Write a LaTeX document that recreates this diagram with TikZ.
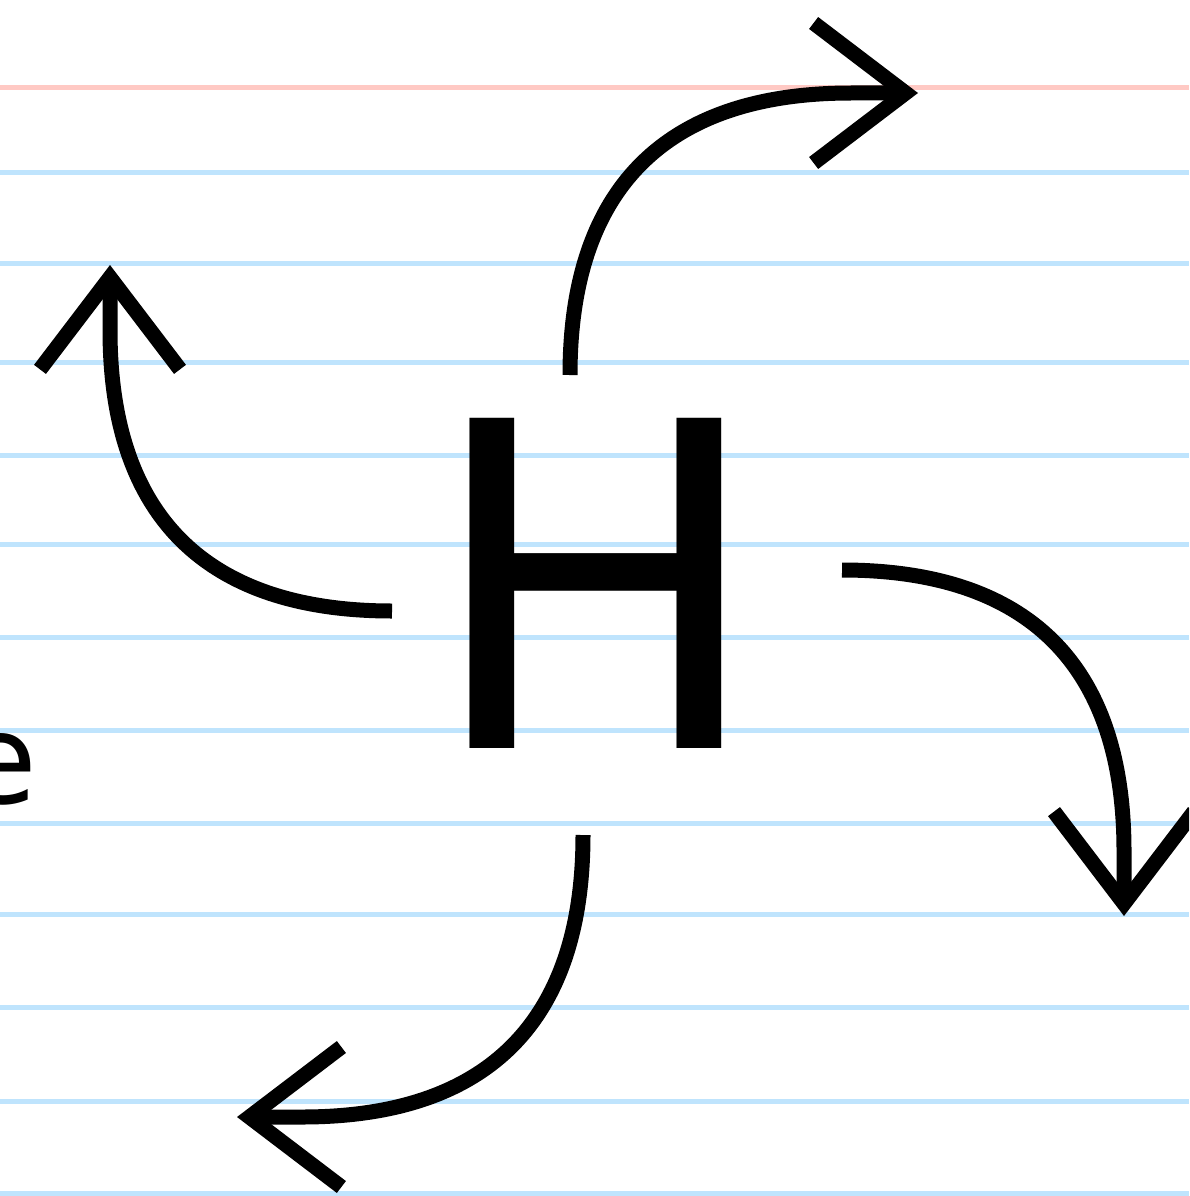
\documentclass[tikz,border=0pt]{standalone}
\usepackage{fontspec}
\usepackage{tikz}
\usetikzlibrary{arrows.meta, positioning}
\newfontfamily\hfont{DejaVu Sans}
\definecolor{ruleblue}{RGB}{191,228,253}
\definecolor{rulered}{RGB}{255,201,196}
\tikzset{ruleline/.style = {line width=5pt, draw=#1},
	swirlarrow/.style = {line width=15pt, -{Straight Barb[sharp,length=92pt,width=140pt]}},
	bigletter/.style = {font=\hfont\fontsize{453}{453}\selectfont, inner sep=0pt},
	smallletter/.style = {font=\hfont\fontsize{125}{125}\selectfont, inner sep=0pt}}
\NewDocumentCommand{\fswirl}{O{swirlarrow} m m m m m}{%
	\draw[#1] (#2) .. controls +#5 and +#6 .. (#3) -- (#4);
}

\begin{document}
\begin{tikzpicture}[x=1pt,y=-1pt]
\fill[white] (0,0) rectangle (1189,1196);
\useasboundingbox (0,0) rectangle (1189,1196);
\clip (0,0) rectangle (1189,1196);
% ruled paper
\draw[ruleline=rulered] (0,87.5) -- (1189,87.5);
\foreach \yy in {172.7,263,362,455.5,544,637,730,823,914,1007,1101,1193}
	\draw[ruleline=ruleblue] (0,\yy) -- (1189,\yy);
\node[bigletter, anchor=base] (h) at (596,748) {H};
\node[smallletter, anchor=base west] (e) at (-40,803) {e};
% tails, knees and tips
\coordinate (t1) at (570,375);  \coordinate (k1) at (851,93);   \coordinate (p1) at (918,93);
\coordinate (t2) at (392,611);  \coordinate (k2) at (110,330);  \coordinate (p2) at (110,265);
\coordinate (t3) at (842,570);  \coordinate (k3) at (1124,851); \coordinate (p3) at (1124,916);
\coordinate (t4) at (583,835);  \coordinate (k4) at (302,1117); \coordinate (p4) at (237,1117);
\fswirl{t1}{k1}{p1}{(0,-182)}{(-190,0)}
\fswirl{t2}{k2}{p2}{(-182,0)}{(0,190)}
\fswirl{t3}{k3}{p3}{(182,0)}{(0,-190)}
\fswirl{t4}{k4}{p4}{(0,182)}{(190,0)}
\end{tikzpicture}
\end{document}
